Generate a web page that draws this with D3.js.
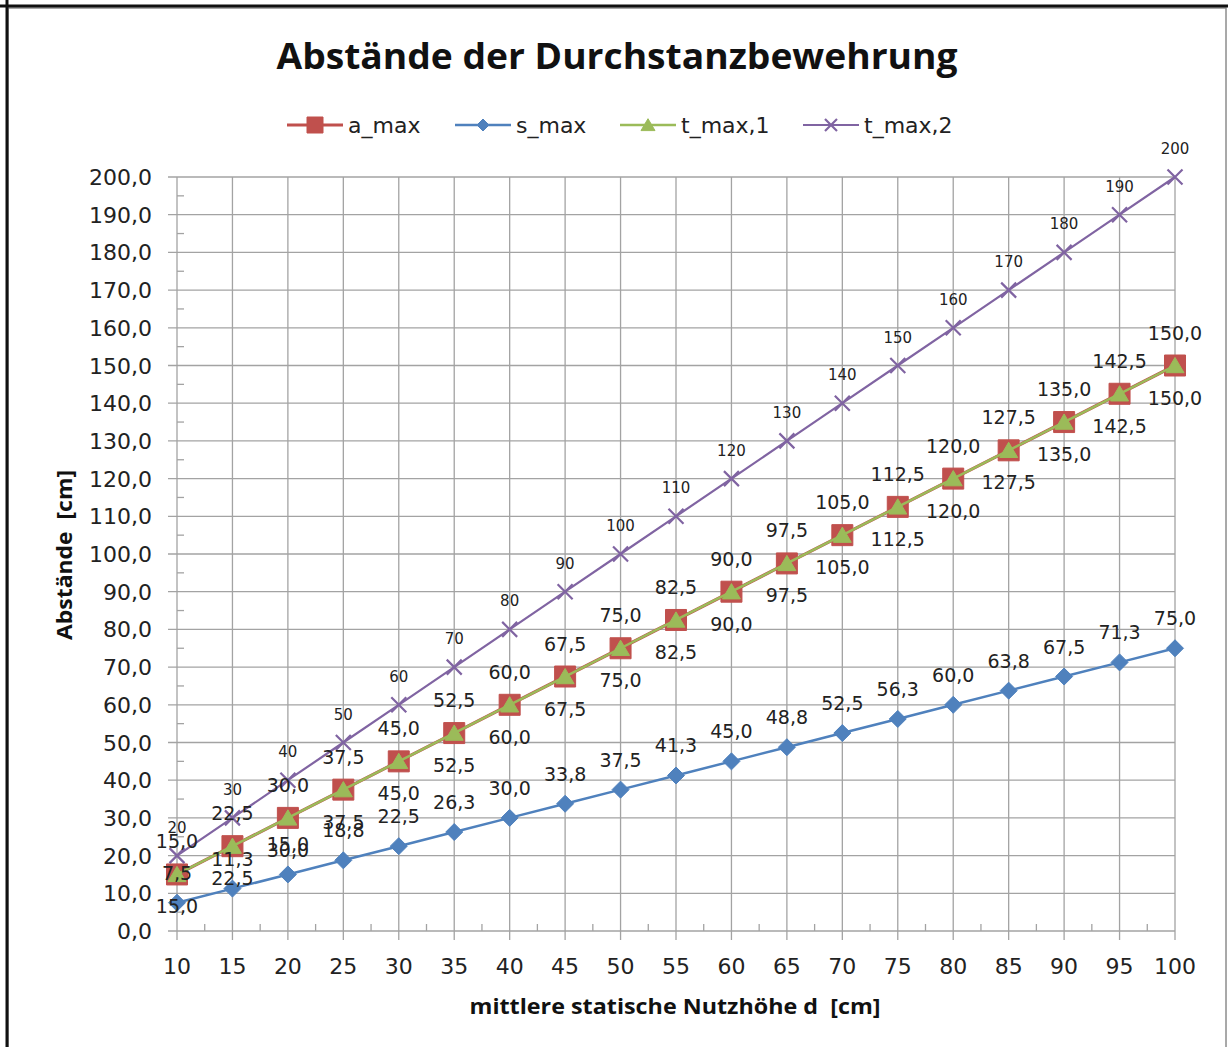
<!DOCTYPE html>
<html>
<head>
<meta charset="utf-8">
<script src="https://cdn.jsdelivr.net/npm/d3@7"></script>
<style>
  body { margin: 0; background: #fff; }
  svg { display: block; }
</style>
</head>
<body>
<div id="chart"></div>
<script>
// category axis: mittlere statische Nutzhöhe d [cm]
var categories = [10, 15, 20, 25, 30, 35, 40, 45, 50, 55, 60, 65, 70, 75, 80, 85, 90, 95, 100];

var aMax  = [15, 22.5, 30, 37.5, 45, 52.5, 60, 67.5, 75, 82.5, 90, 97.5, 105, 112.5, 120, 127.5, 135, 142.5, 150];
var sMax  = [7.5, 11.25, 15, 18.75, 22.5, 26.25, 30, 33.75, 37.5, 41.25, 45, 48.75, 52.5, 56.25, 60, 63.75, 67.5, 71.25, 75];
var tMax1 = [15, 22.5, 30, 37.5, 45, 52.5, 60, 67.5, 75, 82.5, 90, 97.5, 105, 112.5, 120, 127.5, 135, 142.5, 150];
var tMax2 = [20, 30, 40, 50, 60, 70, 80, 90, 100, 110, 120, 130, 140, 150, 160, 170, 180, 190, 200];

var yMax = 200;
var yStep = 10;

var width = 1228;
var height = 1047;
var plot = { left: 177, right: 1175, top: 177, bottom: 931 };

var svg = d3.select('#chart')
            .append('svg')
            .attr('width', width)
            .attr('height', height);

// chart frame
svg.append('rect')
    .attr('x', 8).attr('y', 8)
    .attr('width', 1218).attr('height', 1060)
    .attr('fill', 'none')
    .attr('stroke', '#8c8c8c')
    .attr('stroke-width', 1.5);
svg.append('line')
    .attr('x1', 0).attr('x2', width).attr('y1', 6).attr('y2', 6)
    .attr('stroke', '#111').attr('stroke-width', 3);
svg.append('line')
    .attr('x1', 7).attr('x2', 7).attr('y1', 0).attr('y2', height)
    .attr('stroke', '#111').attr('stroke-width', 3);

var x = d3.scalePoint()
          .domain(categories)
          .range([plot.left, plot.right]);

var y = d3.scaleLinear()
          .domain([0, yMax])
          .range([plot.bottom, plot.top]);

var comma = function(v){ return v.toFixed(1).replace('.', ','); };

var grid = '#a3a3a3';

// horizontal gridlines + outside major ticks
var yTicks = y.ticks(yMax / yStep);
svg.append('g')
    .selectAll('line')
    .data(yTicks)
    .enter()
    .append('line')
    .attr('x1', plot.left - 9)
    .attr('x2', plot.right)
    .attr('y1', function(d){ return y(d); })
    .attr('y2', function(d){ return y(d); })
    .attr('stroke', grid)
    .attr('stroke-width', 1.3);

// y minor ticks (inside)
svg.append('g')
    .selectAll('line')
    .data(yTicks.slice(1))
    .enter()
    .append('line')
    .attr('x1', plot.left)
    .attr('x2', plot.left + 7)
    .attr('y1', function(d){ return y(d - yStep / 2); })
    .attr('y2', function(d){ return y(d - yStep / 2); })
    .attr('stroke', grid)
    .attr('stroke-width', 1.3);

// vertical gridlines + outside major ticks
svg.append('g')
    .selectAll('line')
    .data(categories)
    .enter()
    .append('line')
    .attr('x1', function(d){ return x(d); })
    .attr('x2', function(d){ return x(d); })
    .attr('y1', plot.top)
    .attr('y2', plot.bottom + 9)
    .attr('stroke', grid)
    .attr('stroke-width', 1.3);

// x minor ticks (inside, between categories)
var step = x.step();
svg.append('g')
    .selectAll('line')
    .data(categories.slice(1))
    .enter()
    .append('line')
    .attr('x1', function(d){ return x(d) - step / 2; })
    .attr('x2', function(d){ return x(d) - step / 2; })
    .attr('y1', plot.bottom - 7)
    .attr('y2', plot.bottom)
    .attr('stroke', grid)
    .attr('stroke-width', 1.3);

// tick labels
svg.append('g')
    .selectAll('text')
    .data(yTicks)
    .enter()
    .append('text')
    .attr('x', 152)
    .attr('y', function(d){ return y(d) + 8; })
    .attr('text-anchor', 'end')
    .style('font-family', 'DejaVu Sans')
    .style('font-size', '22px')
    .style('fill', '#222')
    .text(comma);

svg.append('g')
    .selectAll('text')
    .data(categories)
    .enter()
    .append('text')
    .attr('x', function(d){ return x(d); })
    .attr('y', 974)
    .attr('text-anchor', 'middle')
    .style('font-family', 'DejaVu Sans')
    .style('font-size', '22px')
    .style('fill', '#222')
    .text(function(d){ return d; });

// series
var series = [
    { name: 'a_max',   values: aMax,  color: '#C0504D', marker: 'square',   width: 3.2, size: 21, labelDy: -26, labelSize: 19, fmt: comma },
    { name: 's_max',   values: sMax,  color: '#4F81BD', marker: 'diamond',  width: 2.5, size: 17, labelDy: -23, labelSize: 19, fmt: comma },
    { name: 't_max,1', values: tMax1, color: '#9BBB59', marker: 'triangle', width: 2.5, size: 18, labelDy: 39,  labelSize: 19, fmt: comma },
    { name: 't_max,2', values: tMax2, color: '#8064A2', marker: 'cross',    width: 2.2, size: 15, labelDy: -23, labelSize: 15, fmt: function(v){ return String(v); } }
];

function markerPath(type, s){
    var h = s / 2;
    if (type === 'square') return 'M' + (-h) + ',' + (-h) + 'h' + s + 'v' + s + 'h' + (-s) + 'Z';
    if (type === 'diamond') return 'M0,' + (-h) + 'L' + h + ',0L0,' + h + 'L' + (-h) + ',0Z';
    if (type === 'triangle') return 'M0,' + (-s * 0.45) + 'L' + h + ',' + (s * 0.4) + 'L' + (-h) + ',' + (s * 0.4) + 'Z';
    return 'M' + (-h) + ',' + (-h) + 'L' + h + ',' + h + 'M' + h + ',' + (-h) + 'L' + (-h) + ',' + h;
}

function drawMarker(g, s, size){
    g.append('path')
        .attr('d', markerPath(s.marker, size))
        .attr('fill', s.marker === 'cross' ? 'none' : s.color)
        .attr('stroke', s.color)
        .attr('stroke-width', s.marker === 'cross' ? 2.2 : 1);
}

var line = d3.line()
             .x(function(d){ return x(d[0]); })
             .y(function(d){ return y(d[1]); });

var drawOrder = [0, 1, 2, 3];
drawOrder.forEach(function(i){
    var s = series[i];
    var pts = categories.map(function(c, k){ return [c, s.values[k]]; });
    svg.append('path')
        .datum(pts)
        .attr('d', line)
        .attr('fill', 'none')
        .attr('stroke', s.color)
        .attr('stroke-width', s.width)
        .attr('stroke-linejoin', 'round');

    svg.append('g')
        .selectAll('g')
        .data(pts)
        .enter()
        .append('g')
        .attr('transform', function(d){ return 'translate(' + x(d[0]) + ',' + y(d[1]) + ')'; })
        .each(function(){ drawMarker(d3.select(this), s, s.size); });
});

// data labels
series.forEach(function(s){
    svg.append('g')
        .selectAll('text')
        .data(categories.map(function(c, k){ return [c, s.values[k]]; }))
        .enter()
        .append('text')
        .attr('x', function(d){ return x(d[0]); })
        .attr('y', function(d){ return y(d[1]) + s.labelDy; })
        .attr('text-anchor', 'middle')
        .style('font-family', 'DejaVu Sans')
        .style('font-size', s.labelSize + 'px')
        .style('fill', '#222')
        .text(function(d){ return s.fmt(d[1]); });
});

// legend
var legendX = [287, 455, 620, 803];
var legendSize = [16, 12, 14, 12];
series.forEach(function(s, i){
    var g = svg.append('g').attr('transform', 'translate(' + legendX[i] + ',125)');
    g.append('line')
        .attr('x1', 0).attr('x2', 56)
        .attr('stroke', s.color)
        .attr('stroke-width', s.width);
    var m = g.append('g').attr('transform', 'translate(28,0)');
    drawMarker(m, s, legendSize[i]);
    g.append('text')
        .attr('x', 61)
        .attr('y', 8)
        .style('font-family', 'DejaVu Sans')
        .style('font-size', '22px')
        .style('fill', '#222')
        .text(s.name);
});

// Title
svg.append('text')
    .attr('x', 617)
    .attr('y', 69)
    .attr('text-anchor', 'middle')
    .attr('textLength', 681)
    .attr('lengthAdjust', 'spacingAndGlyphs')
    .style('font-family', 'Open Sans')
    .style('font-size', '35px')
    .style('font-weight', 'bold')
    .style('fill', '#111')
    .text('Abstände der Durchstanzbewehrung');

// axis titles
svg.append('text')
    .attr('x', 675)
    .attr('y', 1014)
    .attr('text-anchor', 'middle')
    .attr('textLength', 411)
    .attr('lengthAdjust', 'spacingAndGlyphs')
    .style('font-family', 'Open Sans')
    .style('font-size', '21px')
    .style('font-weight', 'bold')
    .style('fill', '#111')
    .style('white-space', 'pre')
    .text('mittlere statische Nutzhöhe d  [cm]');

svg.append('text')
    .attr('transform', 'translate(72,555) rotate(-90)')
    .attr('text-anchor', 'middle')
    .attr('textLength', 170)
    .attr('lengthAdjust', 'spacingAndGlyphs')
    .style('font-family', 'Open Sans')
    .style('font-size', '21px')
    .style('font-weight', 'bold')
    .style('fill', '#111')
    .style('white-space', 'pre')
    .text('Abstände  [cm]');
</script>
</body>
</html>
